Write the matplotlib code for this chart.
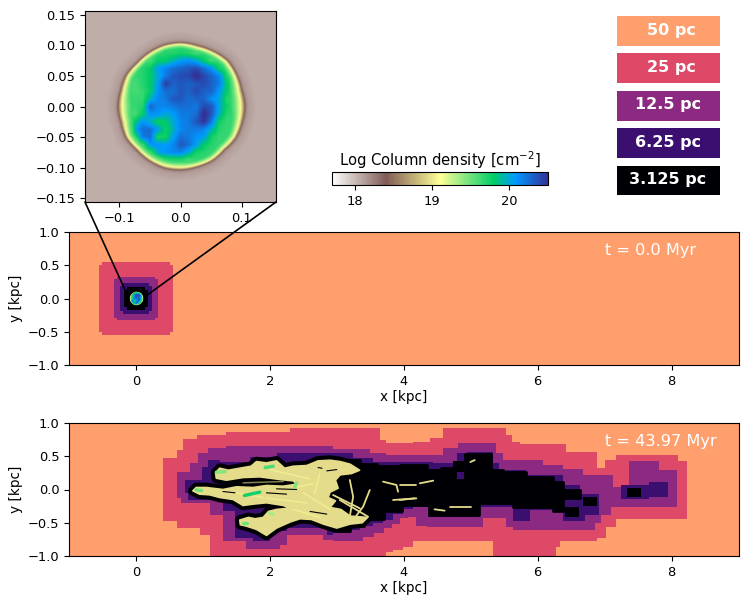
import matplotlib
matplotlib.use('Agg')
from matplotlib import pyplot as plt
from matplotlib.colors import Normalize
from matplotlib.cm import ScalarMappable
from matplotlib.patches import ConnectionPatch, Rectangle
import numpy as np

# inset map of the cloud, log column density, read on a 25x25 grid
cloud = np.array([
	[18.06] * 25,
	[18.06] * 25,
	[18.06] * 25,
	[18.06] * 9 + [18.1] * 7 + [18.06] * 9,
	[18.06] * 8 + [18.1, 18.6, 19.3, 19.3, 19.3, 19.2, 19.2, 18.7, 18.1] + [18.06] * 8,
	[18.06] * 7 + [18.1, 19.0, 19.4, 19.7, 19.7, 19.75, 19.7, 19.6, 19.5, 19.0, 18.1] + [18.06] * 7,
	[18.06] * 6 + [18.2, 19.1, 19.6, 19.8, 19.8, 19.85, 19.95, 20.0, 19.9, 19.8, 19.6, 19.2, 18.2] + [18.06] * 6,
	[18.06] * 5 + [18.15, 18.9, 19.7, 19.8, 19.95, 20.05, 20.15, 20.2, 20.25, 20.3, 20.15, 20.0, 19.75, 19.2, 18.2] + [18.06] * 5,
	[18.06] * 4 + [18.1, 18.5, 19.5, 19.7, 19.8, 19.9, 20.1, 20.25, 20.3, 20.3, 20.45, 20.3, 20.2, 20.05, 19.7, 18.6, 18.15] + [18.06] * 4,
	[18.06] * 4 + [18.15, 19.2, 19.6, 19.7, 19.8, 19.95, 20.35, 20.2, 20.25, 20.2, 20.25, 20.3, 20.2, 20.1, 19.8, 19.3, 18.2] + [18.06] * 4,
	[18.06] * 3 + [18.15, 18.5, 19.5, 19.6, 19.65, 19.8, 20.0, 20.15, 20.15, 20.25, 20.2, 20.3, 20.2, 20.2, 19.95, 19.8, 19.6, 18.5, 18.15] + [18.06] * 3,
	[18.06] * 3 + [18.2, 19.0, 19.3, 19.5, 19.65, 19.85, 20.05, 20.1, 20.25, 20.25, 20.15, 20.2, 20.2, 20.0, 19.9, 19.7, 19.4, 19.0, 18.2] + [18.06] * 3,
	[18.06] * 3 + [18.2, 19.0, 19.1, 19.5, 19.7, 20.2, 20.05, 20.05, 20.1, 20.15, 20.15, 20.1, 20.3, 20.25, 19.9, 19.75, 19.3, 19.1, 18.3] + [18.06] * 3,
	[18.06] * 3 + [18.2, 18.9, 19.2, 19.6, 19.8, 20.0, 20.0, 19.9, 19.95, 20.1, 20.1, 20.15, 20.45, 20.25, 19.85, 19.7, 19.4, 19.0, 18.2] + [18.06] * 3,
	[18.06] * 3 + [18.15, 18.6, 19.5, 19.8, 20.0, 19.85, 19.75, 19.8, 19.9, 20.05, 20.1, 20.25, 20.4, 20.1, 19.75, 19.65, 19.5, 18.6, 18.15] + [18.06] * 3,
	[18.06] * 4 + [18.2, 19.0, 19.9, 20.15, 20.15, 19.95, 19.75, 19.85, 20.05, 20.1, 20.1, 20.05, 19.85, 19.7, 19.65, 19.1, 18.2] + [18.06] * 4,
	[18.06] * 4 + [18.1, 18.5, 19.5, 20.1, 20.15, 19.7, 19.75, 19.95, 20.15, 20.1, 20.0, 19.95, 19.75, 19.65, 19.3, 18.4, 18.1] + [18.06] * 4,
	[18.06] * 5 + [18.15, 18.9, 19.6, 20.0, 20.0, 19.95, 20.05, 20.25, 20.15, 19.95, 19.8, 19.7, 19.5, 18.9, 18.15] + [18.06] * 5,
	[18.06] * 6 + [18.2, 19.1, 19.6, 19.9, 20.0, 20.05, 20.05, 19.9, 19.75, 19.7, 19.5, 19.0, 18.2] + [18.06] * 6,
	[18.06] * 7 + [18.15, 18.8, 19.2, 19.5, 19.7, 19.7, 19.6, 19.45, 19.3, 18.8, 18.15] + [18.06] * 7,
	[18.06] * 8 + [18.1, 18.3, 18.9, 19.0, 19.0, 19.0, 18.9, 18.3, 18.1] + [18.06] * 8,
	[18.06] * 10 + [18.1] * 5 + [18.06] * 10,
	[18.06] * 25,
	[18.06] * 25,
	[18.06] * 25,
])

# cloud rim: radius [kpc] and relative rim thickness every 15 degrees
rim_angle = np.arange(0, 360, 15)
rim_radius = [.1046, .103, .105, .1075, .105, .1035, .105, .1045, .103, .1015, .1035, .102,
	.103, .1015, .1035, .1015, .103, .1045, .104, .1025, .1025, .1005, .1035, .1035]
rim_thick = [1.7, 1.4, 1, .9, .8, .8, .7, .7, .8, .8, 1, 1.3, 1.7, 1.4, 1, .9, .9, 1, 1, .8, .8, .9, 1, 1.3]
# column density against depth inside the rim [kpc]
rim_depth = [-.035, -.018, -.006, -.002, 0, .003, .005, .01, .016, .026]
rim_value = [18.06, 18.06, 18.12, 18.2, 18.4, 18.9, 19.15, 19.5, 19.75, 21]

# refinement regions at t = 0: half width and corner step [kpc]
start_half = [0.555, 0.33, 0.235, 0.18]
start_corner = [0.05, 0.04, 0.04, 0.05]

# refinement regions at t = 43.97 Myr: step edges and heights [kpc]
x_top_25 = [.40, .61, .71, .91, 1.35, 2.30, 3.64, 3.74, 4.14, 4.39, 4.59, 5.53, 5.61, 5.73, 6.43, 6.88, 7.0, 7.17, 8.09, 8.23]
y_top_25 = [.47, .59, .76, .82, .87, .92, .745, .70, .72, .77, .92, .82, .72, .68, .56, .32, .44, .52, .43]
x_bot_25 = [.40, .61, .95, 1.10, 3.74, 3.84, 3.99, 4.14, 5.34, 6.28, 6.33, 6.88, 7.02, 7.17, 8.23]
y_bot_25 = [-.48, -.58, -.68, -1.05, -.935, -.91, -.86, -.78, -1.05, -.86, -.78, -.73, -.56, -.44]

x_top_12 = [.62, .81, .93, 1.08, 1.35, 2.45, 2.95, 3.49, 3.74, 4.59, 4.81, 5.38, 5.48, 6.08, 6.38, 6.68, 7.12, 7.37, 7.82, 8.08]
y_top_12 = [.27, .40, .55, .62, .65, .66, .61, .55, .52, .62, .70, .55, .44, .37, .31, .22, .04, .43, .29]
x_bot_12 = [.62, .68, 1.10, 1.30, 1.65, 2.15, 2.25, 2.80, 2.95, 3.39, 3.55, 3.70, 3.82, 3.95, 4.07, 4.19, 4.34, 5.18, 5.53, 5.63, 6.85, 6.95, 7.10, 8.08]
y_bot_12 = [-.13, -.2, -.38, -.78, -.90, -.84, -.68, -.76, -.78, -.72, -.66, -.58, -.52, -.43, -.42, -.55, -.56, -.43, -.56, -.61, -.5, -.38, -.26]

x_top_6 = [.73, .98, 1.08, 1.25, 1.70, 2.10, 3.24, 3.54, 4.44, 4.79, 4.94, 5.33, 5.43, 5.83, 6.38, 6.63, 6.92]
y_top_6 = [.14, .34, .44, .42, .49, .55, .47, .42, .40, .55, .57, .40, .29, .22, .07, -.07]
x_bot_6 = [.73, .78, 1.30, 1.48, 1.75, 2.0, 2.25, 2.85, 2.95, 3.19, 3.34, 3.54, 3.69, 3.84, 3.99, 4.14, 4.36, 5.13, 5.63, 5.88, 6.38, 6.70, 6.92]
y_bot_6 = [-.05, -.16, -.33, -.73, -.77, -.63, -.58, -.68, -.66, -.61, -.55, -.5, -.46, -.37, -.30, -.26, -.42, -.26, -.48, -.31, -.48, -.38]

x_top_3 = [2.95, 3.35, 3.6, 3.94, 4.34, 4.56, 4.76, 4.91, 5.31, 5.48, 5.83, 6.23, 6.38, 6.63]
y_top_3 = [.44, .38, .35, .37, .29, .32, .15, .53, .29, .27, .19, .12, .0]
x_bot_3 = [2.95, 3.04, 3.19, 3.4, 3.7, 3.98, 4.37, 5.13, 5.63, 6.23, 6.38, 6.63]
y_bot_3 = [-.5, -.62, -.55, -.45, -.33, -.23, -.38, -.2, -.26, -.33, -.13]

# separate patches of each level: x0, x1, y0, y1 [kpc]
island_6 = [[7.25, 7.67, -.15, .07], [7.67, 7.94, -.11, .11]]
island_3 = [[4.74, 4.90, .27, .43], [6.68, 6.88, -.25, -.12], [6.41, 6.62, -.42, -.26], [7.34, 7.55, -.11, .02]]

# outline of the stripped gas
gas_x = [1.19, 1.25, 1.38, 1.55, 1.72, 1.80, 1.95, 2.1, 2.22, 2.35, 2.55, 2.72, 2.9, 3.05, 3.2, 3.34, 3.22, 3.05,
	2.98, 3.02, 2.9, 2.87, 2.98, 2.9, 3.06, 3.2, 3.46, 3.38, 3.2, 3.0,
	2.8, 2.62, 2.45, 2.3, 2.1, 1.95, 1.8, 1.65, 1.56, 1.55, 1.68, 1.78, 1.9, 1.98, 2.1, 2.3,
	2.2, 1.95, 1.75, 1.6, 1.45, 1.25, 1.1, .95, .85, .9, 1.05, 1.3, 1.5, 1.75, 1.95, 2.2, 2.4, 2.35, 2.15, 1.85, 1.6, 1.35, 1.2]
gas_y = [.25, .32, .29, .32, .35, .42, .40, .43, .32, .35, .36, .43, .44, .42, .38, .29, .24, .22,
	.14, .02, -.04, -.12, -.17, -.27, -.3, -.4, -.42, -.5, -.52, -.58,
	-.52, -.45, -.44, -.49, -.58, -.69, -.6, -.55, -.53, -.46, -.42, -.44, -.42, -.33, -.3, -.28,
	-.24, -.2, -.22, -.24, -.15, -.12, -.08, -.07, -.02, .03, .03, .0, .04, .03, .06, .05, .08, .13, .15, .19, .18, .14, .17]

# thin filaments of gas
streak_x = [[2.945, 3.343], [3.045, 3.467], [3.194, 3.244, 3.194], [3.492, 3.393, 3.244], [3.691, 3.891, 3.915], [3.841, 4.189],
	[3.94, 4.19], [4.24, 4.44], [3.94, 4.16], [4.46, 4.61], [4.69, 5.01], [4.995, 5.06]]
streak_y = [[-.083, -.283], [-.158, -.409], [.143, -.108, -.409], [-.008, -.258, -.459], [.118, .068, -.033], [-.158, -.133],
	[.068, .068], [.093, .133], [-.158, -.133], [-.298, -.318], [-.268, -.268], [.413, .443]]

# dark slits across the gas
crack_x = [[2.1, 2.4], [1.3, 1.48], [2.72, 2.78], [2.6, 2.85], [1.95, 2.25], [2.85, 3.0]]
crack_y = [[.01, 0], [-.03, -.05], [.33, .32], [-.33, -.37], [-.05, -.07], [.28, .3]]

# bright ridges inside the gas
ridge_x = [[2.746, 2.67], [1.95, 2.55], [2.42, 2.65], [1.3, 1.9], [2.0, 2.6], [2.5, 2.9], [1.6, 2.2], [2.35, 2.75]]
ridge_y = [[.24, -.06], [-.13, -.2], [.04, .09], [-.02, -.12], [.3, .16], [-.05, -.3], [.1, .12], [-.3, -.42]]

# denser knots
knot_x = [[1.2, 1.33], [1.93, 2.05], [.9, .98], [1.62, 1.85], [2.37, 2.4], [1.6, 1.66], [2.0, 2.05]]
knot_y = [[.26, .27], [.33, .35], [-.005, -.015], [-.09, -.04], [.03, .1], [-.5, -.5], [-.36, -.37]]
knot_val = [19.45, 19.6, 19.5, 19.75, 19.45, 19.5, 19.35]

level_names = ['50 pc', '25 pc', '12.5 pc', '6.25 pc', '3.125 pc']
level_shades = [0.8, 0.6, 0.4, 0.2, 0.0]
time_labels = ['t = 0.0 Myr', 't = 43.97 Myr']

W = 747.0
H = 607.0
vmin = 17.7
vmax = 20.5
FS = 9.4
norm = Normalize(vmin, vmax)
terrain = plt.get_cmap('terrain_r')
level_col = [plt.get_cmap('magma')(s) for s in level_shades]


def px_axes(fig, x0, x1, y0, y1):
	# axes from pixel edges, y measured from the top of the picture
	return fig.add_axes([x0 / W, 1 - y1 / H, (x1 - x0) / W, (y1 - y0) / H])


def step_outline(x_top, y_top, x_bot, y_bot):
	xt = np.repeat(x_top, 2)[1:-1]
	yt = np.repeat(y_top, 2)
	xb = np.repeat(x_bot, 2)[1:-1]
	yb = np.repeat(y_bot, 2)
	return np.r_[xt, xb[::-1]], np.r_[yt, yb[::-1]]


def cloud_image(n=360, half=.156):
	# the table gives the inside, the rim arrays give the sharp edge
	inside = np.where(cloud < 19.55, 19.65, cloud)
	inside = np.where(cloud > 19.8, cloud + 0.1, inside)
	xs = np.linspace(-half, half, n)
	ys = xs[::-1]
	X, Y = np.meshgrid(xs, ys)
	gx = np.clip((X + half) / (2 * half) * 25 - 0.5, 0, 23.999)
	gy = np.clip((half - Y) / (2 * half) * 25 - 0.5, 0, 23.999)
	i = gy.astype(int)
	j = gx.astype(int)
	fy = gy - i
	fx = gx - j
	table = (inside[i, j] * (1 - fx) * (1 - fy) + inside[i, j + 1] * fx * (1 - fy)
		+ inside[i + 1, j] * (1 - fx) * fy + inside[i + 1, j + 1] * fx * fy)
	theta = np.degrees(np.arctan2(Y, X)) % 360
	depth = np.interp(theta, rim_angle, rim_radius, period=360) - np.hypot(X, Y)
	thick = np.interp(theta, rim_angle, rim_thick, period=360)
	depth = np.where(depth > 0, depth / thick, depth)
	return np.minimum(table, np.interp(depth, rim_depth, rim_value))


def setup_panel(ax, label):
	ax.set_xlim(-1, 9)
	ax.set_ylim(-1, 1)
	ax.set_facecolor(level_col[0])
	ax.set_xticks([0, 2, 4, 6, 8])
	ax.set_yticks([-1, -0.5, 0, 0.5, 1])
	ax.set_yticklabels(['\u22121.0', '\u22120.5', '0.0', '0.5', '1.0'])
	ax.tick_params(labelsize=FS)
	ax.set_xlabel('x [kpc]', fontsize=9.8, labelpad=1.5)
	ax.set_ylabel('y [kpc]', fontsize=9.8, labelpad=3)
	ax.text(7.0, 0.72, label, color='white', fontsize=11.6, va='center')


fig = plt.figure(figsize=(W / 100, H / 100), dpi=100)
cloud_map = cloud_image()

# top panel
ax1 = px_axes(fig, 69, 738.5, 232, 365)
setup_panel(ax1, time_labels[0])
for i in range(4):
	h = start_half[i]
	c = start_corner[i]
	edges = [-h, -h + c, h - c, h]
	px, py = step_outline(edges, [h - c, h, h - c], edges, [c - h, -h, c - h])
	ax1.fill(px, py, color=level_col[i + 1], lw=0, zorder=2 + i)
ax1.imshow(np.ma.masked_less(cloud_map, 18.3), extent=(-.156, .156, -.156, .156), cmap=terrain, norm=norm,
	interpolation='antialiased', aspect='auto', zorder=8)
ax1.set_xlim(-1, 9)
ax1.set_ylim(-1, 1)

# bottom panel
ax2 = px_axes(fig, 69, 738.5, 423, 556)
setup_panel(ax2, time_labels[1])
px, py = step_outline(x_top_25, y_top_25, x_bot_25, y_bot_25)
ax2.fill(px, py, color=level_col[1], lw=0, zorder=2)
px, py = step_outline(x_top_12, y_top_12, x_bot_12, y_bot_12)
ax2.fill(px, py, color=level_col[2], lw=0, zorder=3)
px, py = step_outline(x_top_6, y_top_6, x_bot_6, y_bot_6)
ax2.fill(px, py, color=level_col[3], lw=0, zorder=4)
for b in island_6:
	ax2.add_patch(Rectangle((b[0], b[2]), b[1] - b[0], b[3] - b[2], color=level_col[3], lw=0, zorder=4))
px, py = step_outline(x_top_3, y_top_3, x_bot_3, y_bot_3)
ax2.fill(px, py, fc=level_col[4], ec=level_col[4], lw=2, joinstyle='round', zorder=5)
for b in island_3:
	ax2.add_patch(Rectangle((b[0], b[2]), b[1] - b[0], b[3] - b[2], color=level_col[4], lw=0, zorder=5))
# the fine level hugs the gas, so a thick edge draws it
gas_col = terrain(norm(18.95))
ax2.fill(gas_x, gas_y, fc=level_col[4], ec=level_col[4], lw=7, joinstyle='round', zorder=5)
ax2.fill(gas_x, gas_y, fc=gas_col, ec=gas_col, lw=1.2, joinstyle='round', zorder=6)
for sx, sy in zip(streak_x, streak_y):
	ax2.plot(sx, sy, color=gas_col, lw=1.3, solid_capstyle='round', zorder=6)
for sx, sy in zip(ridge_x, ridge_y):
	ax2.plot(sx, sy, color=terrain(norm(19.1)), lw=1.1, alpha=0.5, solid_capstyle='round', zorder=7)
for sx, sy in zip(crack_x, crack_y):
	ax2.plot(sx, sy, color='black', lw=0.8, solid_capstyle='round', zorder=7)
for sx, sy, v in zip(knot_x, knot_y, knot_val):
	ax2.plot(sx, sy, color=terrain(norm(v)), lw=2.4, solid_capstyle='round', zorder=8)

# zoomed inset
ax3 = px_axes(fig, 85, 276, 11, 202)
ax3.imshow(cloud_map, extent=(-.156, .156, -.156, .156), cmap=terrain, norm=norm, interpolation='bilinear', aspect='auto')
ax3.set_xticks([-0.1, 0.0, 0.1])
ax3.set_yticks([-0.15, -0.10, -0.05, 0.0, 0.05, 0.10, 0.15])
ax3.set_yticklabels(['\u22120.15', '\u22120.10', '\u22120.05', '0.00', '0.05', '0.10', '0.15'])
ax3.tick_params(labelsize=FS)

# lines from inset corners down to the cloud
for xa, xb, yb in [(-.156, -.15, .10), (.156, .165, .05)]:
	con = ConnectionPatch(xyA=(xa, -.156), coordsA=ax3.transData, xyB=(xb, yb), coordsB=ax1.transData,
		color='black', lw=1.2, zorder=20)
	fig.add_artist(con)

# colour bar
cax = px_axes(fig, 332, 548, 172, 185)
cb = fig.colorbar(ScalarMappable(norm=norm, cmap=terrain), cax=cax, orientation='horizontal', ticks=[18, 19, 20])
cb.ax.tick_params(labelsize=FS)
cb.set_label('Log Column density [cm$^{-2}$]', fontsize=10.6, labelpad=4)
cb.ax.xaxis.set_label_position('top')

# legend boxes for the cell sizes
box_top = [16, 53.5, 91, 128, 165.5]
text_mid = [671, 671, 668, 668, 668]
for i in range(5):
	fig.add_artist(Rectangle((617 / W, 1 - (box_top[i] + 29.5) / H), 102.5 / W, 29.5 / H, transform=fig.transFigure,
		fc=level_col[i], ec='none'))
	fig.text(text_mid[i] / W, 1 - (box_top[i] + 14) / H, level_names[i], color='white', fontsize=11.5, fontweight='bold',
		ha='center', va='center')

fig.savefig('out.png', dpi=100)
